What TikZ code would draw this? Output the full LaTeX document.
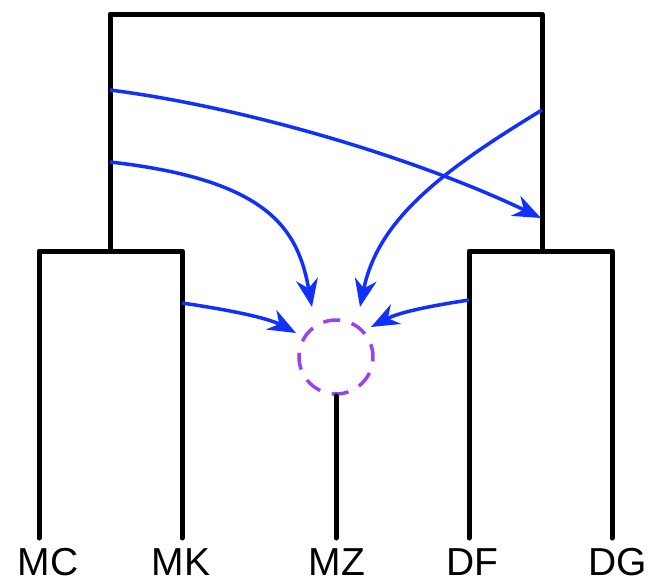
\documentclass[tikz,border=0pt]{standalone}
\usepackage{fontspec}
\setmainfont{Liberation Sans}
\usetikzlibrary{arrows.meta}
\definecolor{arrowblue}{RGB}{16,48,255}
\definecolor{ringpurple}{RGB}{155,65,240}
\begin{document}
\begin{tikzpicture}[x=1pt,y=-1pt,
  branch/.style={line width=5pt,line cap=round,line join=round,black},
  flow/.style={line width=3.5pt,arrowblue,-{Stealth[length=28pt,width=22pt,inset=9pt]}},
  leaf/.style={anchor=base,inner sep=0pt,text depth=0pt,font=\fontsize{39}{44}\selectfont},
  ring/.style={circle,draw=ringpurple,line width=3.5pt,dash pattern=on 17pt off 12pt,dash phase=4pt,minimum size=74pt,inner sep=0pt}]
\useasboundingbox (0,0) rectangle (649,584);
% tree coordinates
\coordinate (tl) at (110,14);
\coordinate (tr) at (542,14);
\coordinate (lj) at (110,251);
\coordinate (rj) at (542,251);
\coordinate (mcT) at (39,251);
\coordinate (mkT) at (182,251);
\coordinate (dfT) at (469,251);
\coordinate (dgT) at (612,251);
\coordinate (mcB) at (39,538);
\coordinate (mkB) at (182,538);
\coordinate (mzB) at (336,538);
\coordinate (dfB) at (469,538);
\coordinate (dgB) at (612,538);
% ring
\node[ring] (mz) at (336,357) {};
\coordinate (mzT) at (336,396);
% labels
\node[leaf] (MC) at (48,575) {MC};
\node[leaf] (MK) at (181,575) {MK};
\node[leaf] (MZ) at (337,575) {MZ};
\node[leaf] (DF) at (472,575) {DF};
\node[leaf] (DG) at (618,575) {DG};
% branches
\draw[branch] (lj) -- (tl) -- (tr) -- (rj);
\draw[branch] (mcB) -- (mcT) -- (mkT) -- (mkB);
\draw[branch] (dfB) -- (dfT) -- (dgT) -- (dgB);
\draw[branch] (mzT) -- (mzB);
% flow sources and targets
\coordinate (s1) at (110,90);
\coordinate (e1) at (541,218);
\coordinate (s2) at (110,162);
\coordinate (e2) at (312,307);
\coordinate (s3) at (542,110);
\coordinate (e3) at (360,307);
\coordinate (s4) at (182,303);
\coordinate (e4) at (296,333);
\coordinate (s5) at (469,300);
\coordinate (e5) at (371,327);
\draw[flow] (s1) .. controls (250,108) and (420,160) .. (e1);
\draw[flow] (s2) .. controls (270,180) and (298,230) .. (e2);
\draw[flow] (s3) .. controls (440,172) and (378,220) .. (e3);
\draw[flow] (s4) .. controls (230,310) and (268,318) .. (e4);
\draw[flow] (s5) .. controls (430,306) and (400,312) .. (e5);
\end{tikzpicture}
\end{document}
